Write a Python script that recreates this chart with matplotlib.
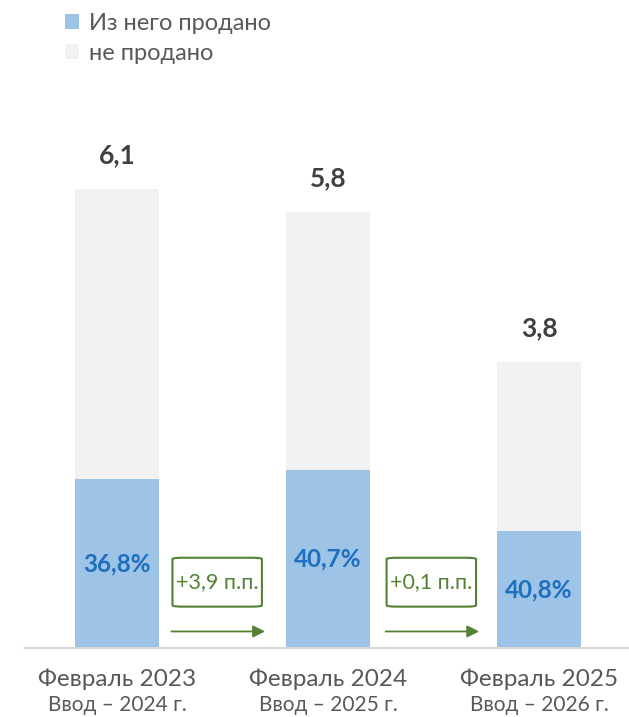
import numpy as np
import matplotlib.pyplot as plt
from matplotlib.patches import FancyBboxPatch

plt.rcParams['font.family'] = ['Lato', 'DejaVu Sans']

# данные
periods = ['Февраль 2023', 'Февраль 2024', 'Февраль 2025']
vvod = ['Ввод – 2024 г.', 'Ввод – 2025 г.', 'Ввод – 2026 г.']
totals = np.array([6.1, 5.8, 3.8])
sold_share = np.array([36.8, 40.7, 40.8])
changes = ['+3,9 п.п.', '+0,1 п.п.']

sold = totals * sold_share / 100
unsold = totals - sold

c_sold = '#9DC3E6'
c_unsold = '#F2F2F2'
c_green = '#548235'
c_gray = '#595959'

fig = plt.figure(figsize=(6.29, 7.17), dpi=100)
ax = fig.add_axes([25 / 629, 69 / 717, 604 / 629, 549 / 717])

x = np.arange(len(totals))
w = 0.4
ax.bar(x, sold, w, color=c_sold, label='Из него продано')
ax.bar(x, unsold, w, bottom=sold, color=c_unsold, label='не продано')

for i in range(len(x)):
    ax.text(x[i], totals[i] + 0.45, f'{totals[i]:.1f}'.replace('.', ','),
            ha='center', va='center', fontsize=19, fontweight='bold', color='#404040')
    ax.text(x[i], sold[i] / 2, f'{sold_share[i]:.1f}%'.replace('.', ','),
            ha='center', va='center', fontsize=17.5, fontweight='bold', color='#1F6FBF')

# стрелки и изменения
offs = [-0.025, -0.01]
for i, txt in enumerate(changes):
    xm = i + 0.5 + offs[i]
    ax.annotate('', xy=(xm + 0.24, 0.22), xytext=(xm - 0.23, 0.22),
                arrowprops=dict(arrowstyle='-|>', color=c_green, lw=1.3,
                                mutation_scale=18))
    box = FancyBboxPatch((xm - 0.212, 0.55), 0.424, 0.65,
                         boxstyle='round,pad=0,rounding_size=0.05',
                         fc='white', ec=c_green, lw=1.5,
                         mutation_aspect=1 / 2.8)
    ax.add_patch(box)
    ax.text(xm, 0.875, txt, ha='center', va='center', fontsize=15.5, color=c_green)

ax.set_xlim(-0.436, 2.427)
ax.set_ylim(0, 7.3)
for s in ['top', 'right', 'left']:
    ax.spines[s].set_visible(False)
ax.spines['bottom'].set_color('#D9D9D9')
ax.spines['bottom'].set_linewidth(1.5)
ax.set_yticks([])
ax.set_xticks(x)
ax.set_xticklabels([])
ax.tick_params(axis='x', length=0)
for i in range(len(x)):
    ax.text(x[i], -0.42, periods[i], ha='center', va='center',
            fontsize=17.5, color=c_gray)
    ax.text(x[i], -0.76, vvod[i], ha='center', va='center',
            fontsize=15, color=c_gray)

leg = fig.legend(loc='upper left', bbox_to_anchor=(44 / 629, 1.012), frameon=False,
                 fontsize=17, handlelength=0.6, handleheight=0.6,
                 handletextpad=0.4, labelspacing=0.4, labelcolor=c_gray)

fig.savefig('out.png', dpi=100)
